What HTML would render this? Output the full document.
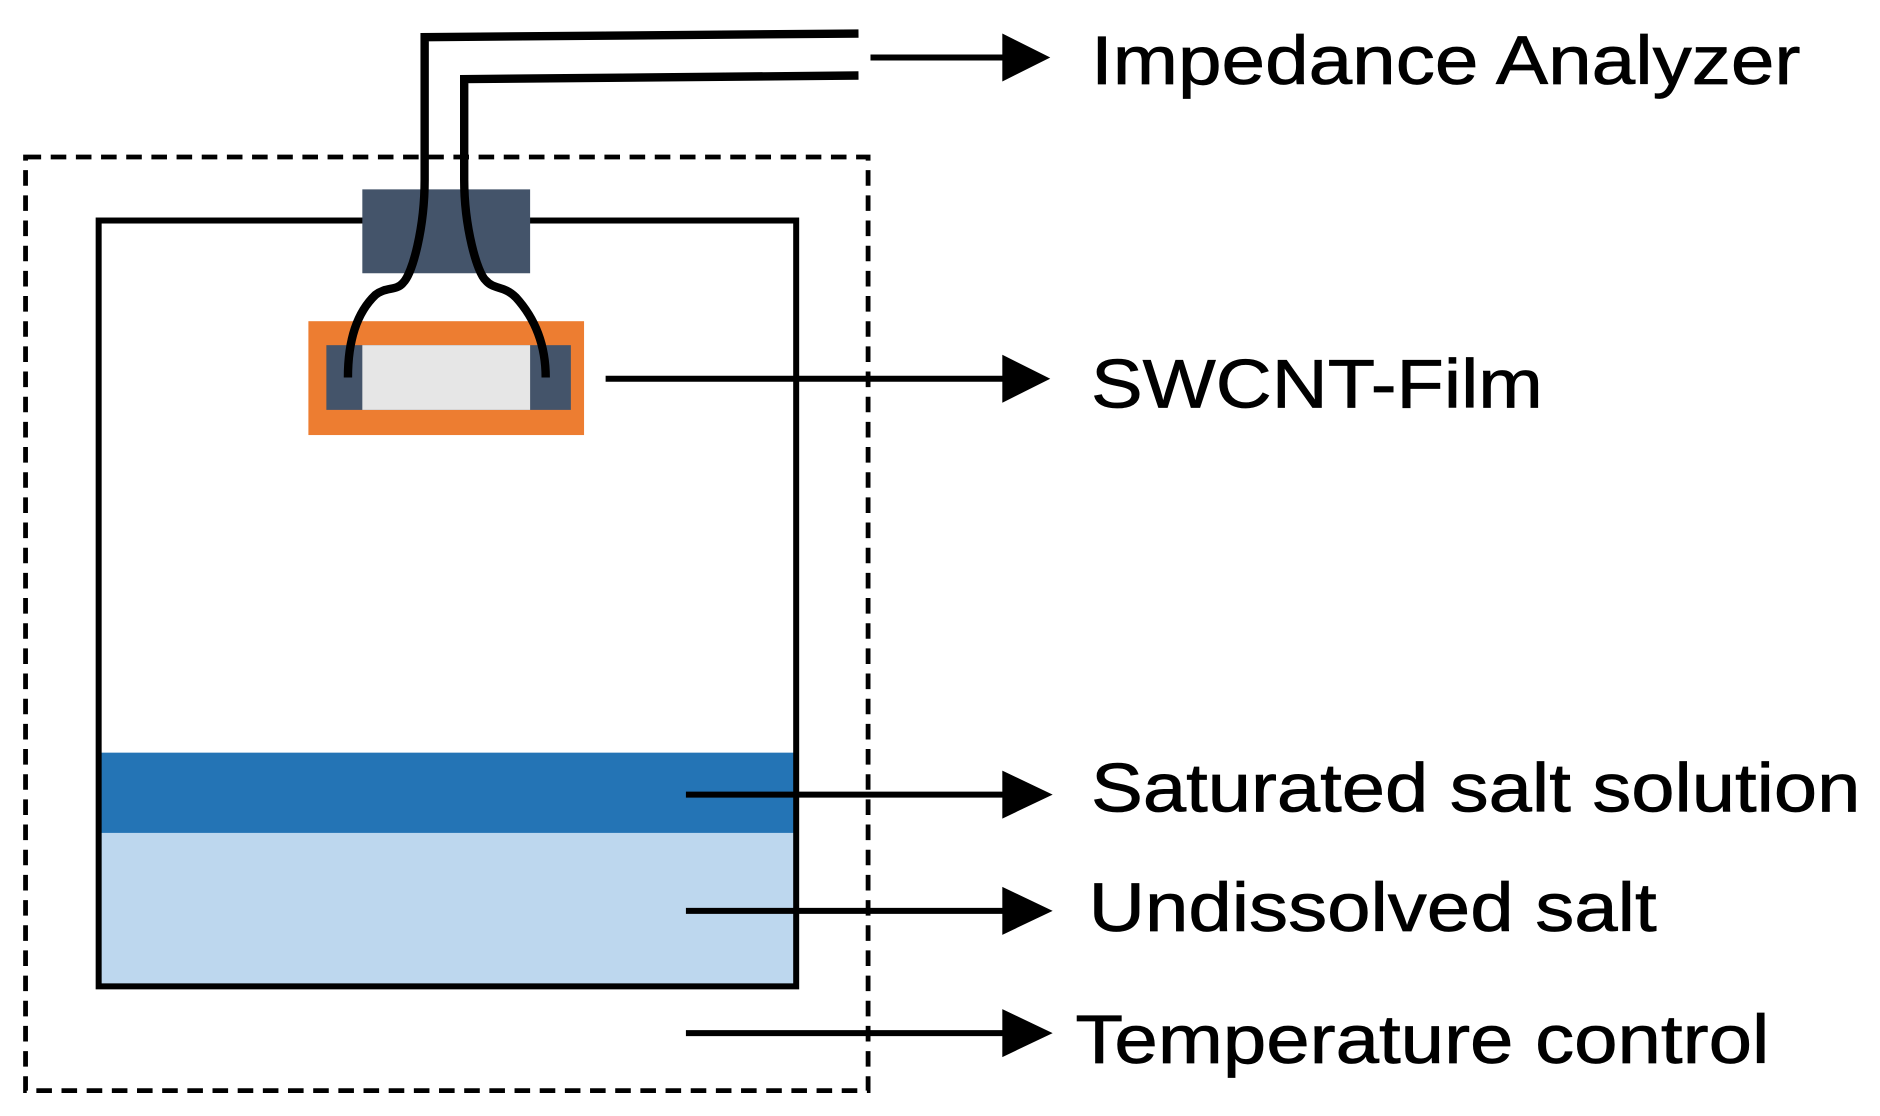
<!DOCTYPE html>
<html><head><style>html,body{margin:0;padding:0;background:#fff}</style></head>
<body>
<svg width="1880" height="1111" viewBox="0 0 1568 927" xmlns="http://www.w3.org/2000/svg">
<rect x="0" y="0" width="1568" height="927" fill="#fff"/>
<rect x="21" y="131" width="703" height="779" fill="none" stroke="#000" stroke-width="4" stroke-dasharray="13,8"/>
<rect x="82" y="628" width="582" height="67" fill="#2474b5"/>
<rect x="82" y="695" width="582" height="128" fill="#bdd7ee"/>
<rect x="82" y="184" width="582" height="639" fill="none" stroke="#000" stroke-width="5"/>
<rect x="302" y="158" width="140" height="70" fill="#44546a"/>
<rect x="257" y="268" width="230" height="95" fill="#ed7d31"/>
<rect x="272" y="288" width="204" height="54" fill="#44546a"/>
<rect x="302" y="288" width="140" height="54" fill="#e6e6e6"/>
<g fill="none" stroke="#000" stroke-width="7">
<path d="M716,28 L354,31 L354,150 C354,190 344,228 336,236 C330,243 322,239 313,246 C293,265 290,295 290,315"/>
<path d="M716,63 L387,66 L387,150 C387,190 398,228 405,234 C412,242 420,238 430,248 C450,270 455,295 455,315"/>
</g>
<g stroke="#000" stroke-width="5">
<line x1="726" y1="48" x2="840" y2="48"/>
<line x1="505" y1="316" x2="840" y2="316"/>
<line x1="572" y1="663" x2="840" y2="663"/>
<line x1="572" y1="760" x2="840" y2="760"/>
<line x1="572" y1="862" x2="840" y2="862"/>
</g>
<g fill="#000">
<polygon points="836,28 876,48 836,68"/>
<polygon points="836,296 876,316 836,336"/>
<polygon points="836,643 878,663 836,683"/>
<polygon points="836,740 878,760 836,780"/>
<polygon points="836,842 878,862 836,882"/>
</g>
<g font-family="Liberation Sans, sans-serif" font-size="57" fill="#000" stroke="#000" stroke-width="0.6">
<text x="910" y="70" textLength="592" lengthAdjust="spacingAndGlyphs">Impedance Analyzer</text>
<text x="910" y="340" textLength="377" lengthAdjust="spacingAndGlyphs">SWCNT-Film</text>
<text x="910" y="677" textLength="642" lengthAdjust="spacingAndGlyphs">Saturated salt solution</text>
<text x="908" y="777" textLength="474" lengthAdjust="spacingAndGlyphs">Undissolved salt</text>
<text x="897" y="887" textLength="579" lengthAdjust="spacingAndGlyphs">Temperature control</text>
</g>
</svg>
</body></html>
